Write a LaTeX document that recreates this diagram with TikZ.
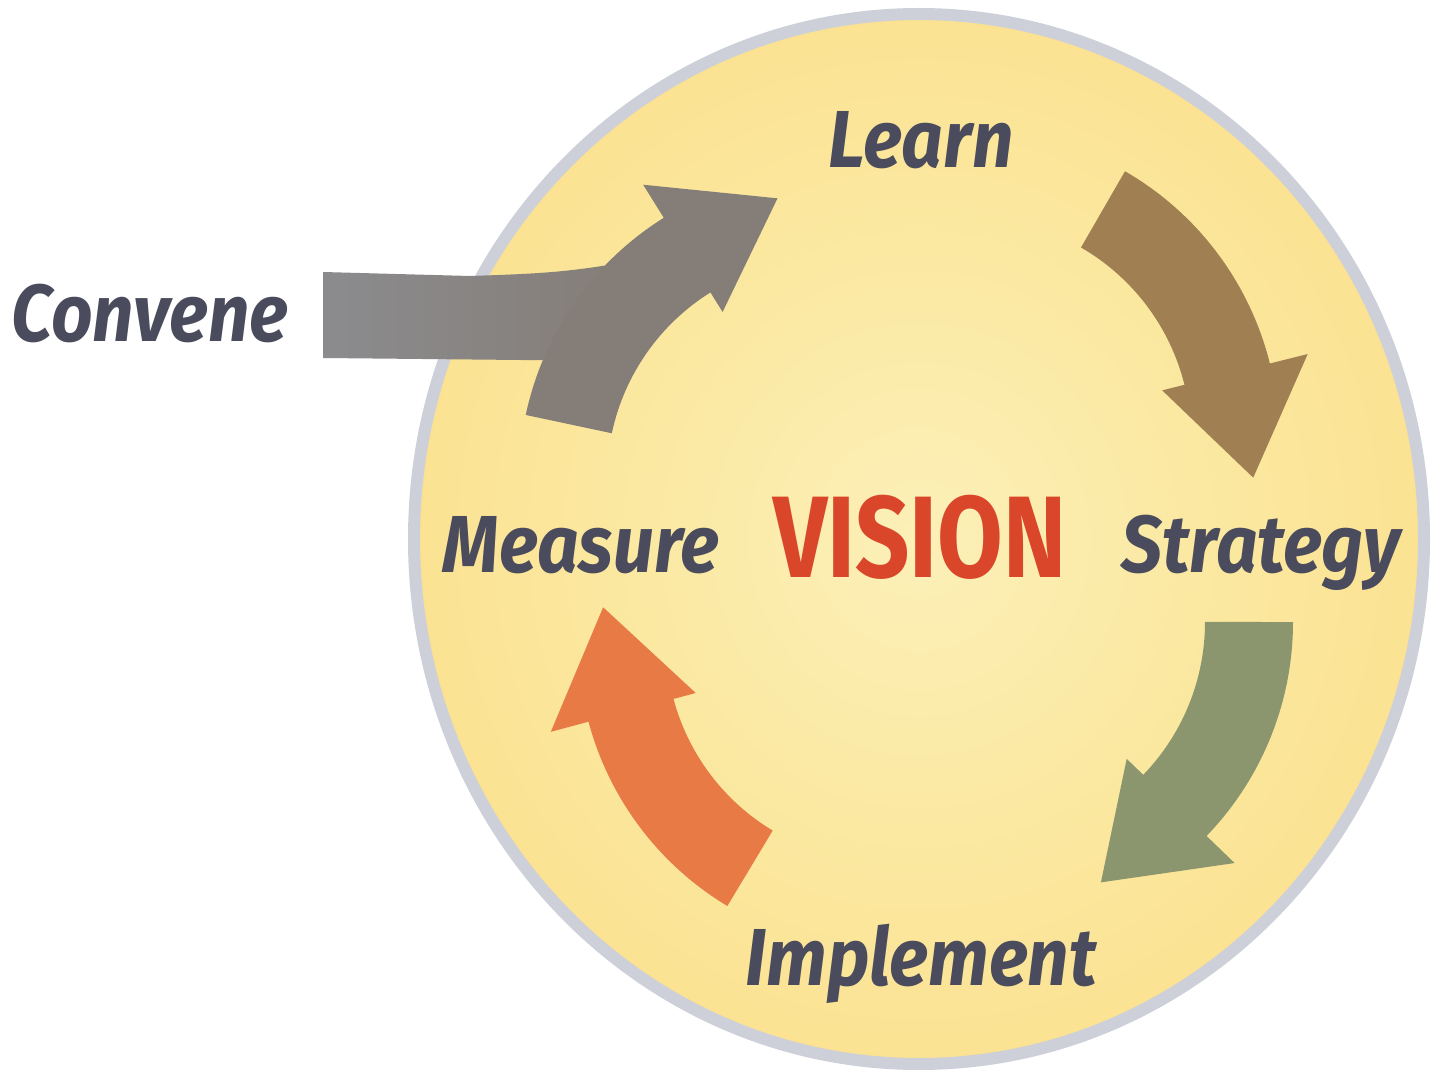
\documentclass[tikz,border=0pt]{standalone}
\usepackage{fontspec}
\usepackage{tikz}
\usetikzlibrary{positioning,calc}
\newfontfamily\fasefont[FakeStretch=0.9]{Fira Sans}
\newfontfamily\visionfont[FakeStretch=0.82]{Fira Sans}
\definecolor{testo}{HTML}{4A4B5C}
\definecolor{rosso}{HTML}{D9462A}
\definecolor{anello}{HTML}{CDD0D8}
\definecolor{sfondoA}{HTML}{FCF0B8}
\definecolor{sfondoB}{HTML}{FBE8A0}
\definecolor{sfondoC}{HTML}{FADC84}
\definecolor{sfondoD}{HTML}{F8CF66}
\definecolor{grigio}{HTML}{857E78}
\definecolor{grigiochiaro}{HTML}{8B8B8E}
\definecolor{marrone}{HTML}{A08052}
\definecolor{verde}{HTML}{8C966E}
\definecolor{arancio}{HTML}{E87A46}
\pgfdeclareradialshading{sfondo}{\pgfpoint{0bp}{0bp}}{color(0bp)=(sfondoA); color(15bp)=(sfondoB); color(36bp)=(sfondoC); color(50bp)=(sfondoD)}
\tikzstyle{fase} = [inner sep=0pt, anchor=base, text=testo, font=\fasefont\bfseries\itshape\fontsize{23}{23}\selectfont]
\tikzstyle{visione} = [inner sep=0pt, anchor=base, text=rosso, font=\visionfont\bfseries\fontsize{33}{33}\selectfont]
% colore, centro, angolo coda, angolo base punta, angolo punta
\newcommand{\freccia}[5]{\fill[#1, shift={(#2)}] (#3:3.08) arc[start angle=#3, end angle=#4, radius=3.08] -- (#4:3.47) -- (#5:2.85) -- (#4:1.97) -- (#4:2.2) arc[start angle=#4, end angle=#3, radius=2.2] -- cycle;}

\begin{document}
\begin{tikzpicture}
\useasboundingbox (0,0) rectangle (14.31,10.73);
\coordinate (centro) at (9.19,5.34);
\shade[shading=sfondo] (centro) ellipse[x radius=5.05, y radius=5.25];
\draw[anello, line width=0.12cm] (centro) ellipse[x radius=5.05, y radius=5.25];

\shade[left color=grigiochiaro, right color=grigio] (3.23,8.01) -- (4.7,7.97) to[out=2,in=190] (6.2,8.1) -- (6.2,7.12) -- (3.23,7.15) -- cycle;
\freccia{grigio}{8.27,5.94}{168}{122}{100}
\freccia{marrone}{9.71,6.35}{60}{14}{-8}
\freccia{verde}{9.85,4.51}{0}{-44}{-66}
\freccia{arancio}{8.86,4.31}{239}{195}{173}

\node (learn) at (9.21,9.05) [fase] {Learn};
\node (convene) at (1.50,7.31) [fase] {Convene};
\node (measure) at (5.81,5.01) [fase] {Measure};
\node (vision) at (9.20,4.95) [visione] {VISION};
\node (strategy) at (12.61,5.01) [fase] {Strategy};
\node (implement) at (9.21,0.88) [fase] {Implement};
\end{tikzpicture}
\end{document}
